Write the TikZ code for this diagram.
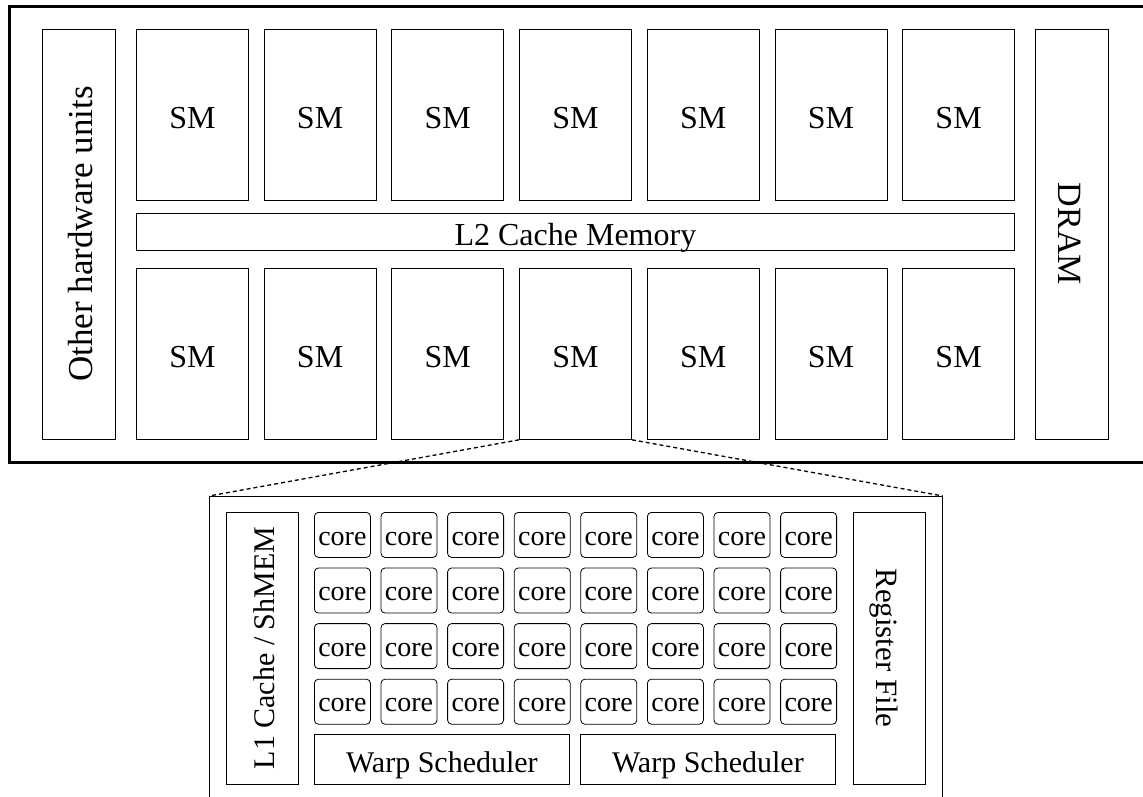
\documentclass[tikz,border=0pt]{standalone}
\usepackage{fontspec}
\setmainfont{Liberation Serif}
\usetikzlibrary{positioning}
\newcommand{\bigtxt}{\fontsize{32}{36}\selectfont}
\tikzset{
  unitbox/.style={draw,line width=0.8pt,inner sep=0pt,font=\bigtxt,text height=27.5pt,text depth=0pt},
  corebox/.style={unitbox,rounded corners=4pt,minimum width=56pt,minimum height=45pt,
    anchor=north west,font=\fontsize{28}{30}\selectfont,text height=20.5pt},
  smbox/.style={unitbox,minimum width=112pt,minimum height=171pt,anchor=north west},
  zoomline/.style={dashed,line width=1.3pt,dash pattern=on 4pt off 3pt}
}

\begin{document}
\begin{tikzpicture}[x=1pt,y=-1pt]
        \clip (0,0) rectangle (1143,797);
        \fill[white] (0,0) rectangle (1143,797);
        % whole gpu
        \draw[line width=3pt] (9,7) rectangle (1160,462);
        \node[unitbox,rotate=90,minimum width=410pt,minimum height=73pt,font=\fontsize{35}{38}\selectfont,text height=28pt]
          (other) at (78.5,234) {Other hardware units};
        \foreach \i in {0,...,6} {
          \node[smbox] (smt\i) at (136+127.7*\i,29) {SM};
          \node[smbox] (smb\i) at (136+127.7*\i,268) {SM};
        }
        \node[unitbox,anchor=north west,minimum width=878pt,minimum height=37pt] (ltwo) at (136,213) {L2 Cache Memory};
        \node[unitbox,rotate=-90,minimum width=410pt,minimum height=73pt,font=\fontsize{34}{38}\selectfont,text height=27pt]
          (dram) at (1071.5,234) {DRAM};
        % one SM, enlarged
        \node[unitbox,anchor=north west,minimum width=733pt,minimum height=330pt] (smzoom) at (209,496) {};
        \draw[zoomline] (smb3.south west) -- (smzoom.north west);
        \draw[zoomline] (smb3.south east) -- (smzoom.north east);
        \node[unitbox,rotate=90,minimum width=272pt,minimum height=72pt,font=\fontsize{30}{34}\selectfont,text height=25pt]
          (lone) at (262,648) {L1 Cache / ShMEM};
        \node[unitbox,rotate=-90,minimum width=272pt,minimum height=72pt,font=\fontsize{31}{34}\selectfont,text height=26pt]
          (regs) at (889,648) {Register File};
        \foreach \r in {0,...,3} {
          \foreach \c in {0,...,7} {
            \node[corebox] (core\r\c) at (314+66.6*\c,512+55.6*\r) {core};
          }
        }
        \node[unitbox,anchor=north west,minimum width=255pt,minimum height=50pt,font=\fontsize{30}{34}\selectfont,text height=26pt]
          (warpa) at (314,734) {Warp Scheduler};
        \node[unitbox,anchor=north west,minimum width=255pt,minimum height=50pt,font=\fontsize{30}{34}\selectfont,text height=26pt]
          (warpb) at (580,734) {Warp Scheduler};
      \end{tikzpicture}
\end{document}
